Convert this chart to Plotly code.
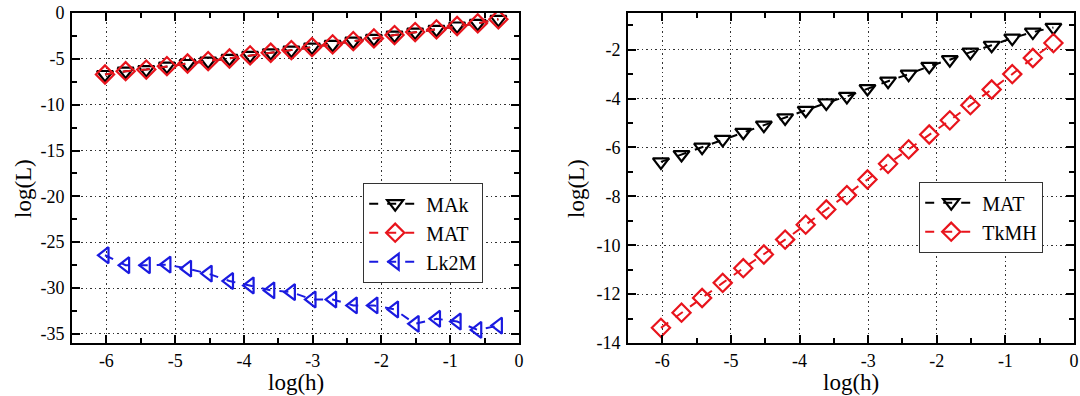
import plotly.graph_objects as go

# shared abscissa: log10(h) for h = 2^-20 ... 2^-1
log_h = [-6.02, -5.72, -5.42, -5.12, -4.82, -4.52, -4.21, -3.91, -3.61, -3.31,
         -3.01, -2.71, -2.41, -2.11, -1.81, -1.51, -1.20, -0.90, -0.60, -0.30]

# left panel
left_MAk = [-6.71, -6.35, -6.17, -5.80, -5.51, -5.25, -4.96, -4.63, -4.34, -4.05,
            -3.72, -3.43, -3.07, -2.77, -2.41, -2.08, -1.79, -1.42, -1.13, -0.69]
left_MAT = [-6.71, -6.35, -6.17, -5.80, -5.51, -5.25, -4.96, -4.63, -4.34, -4.05,
            -3.72, -3.43, -3.07, -2.77, -2.41, -2.08, -1.79, -1.42, -1.13, -0.69]
left_Lk2M = [-26.43, -27.52, -27.52, -27.45, -27.89, -28.43, -29.24, -29.72, -30.26, -30.45,
             -31.25, -31.25, -31.90, -31.90, -32.34, -33.91, -33.36, -33.66, -34.57, -34.10]

# right panel
right_MAT = [-6.59, -6.29, -5.99, -5.67, -5.38, -5.09, -4.79, -4.48, -4.18, -3.91,
             -3.59, -3.29, -3.00, -2.68, -2.41, -2.10, -1.82, -1.53, -1.28, -1.09]
right_TkMH = [-13.38, -12.76, -12.16, -11.54, -10.94, -10.38, -9.77, -9.16, -8.54, -7.95,
              -7.31, -6.67, -6.08, -5.47, -4.89, -4.27, -3.63, -3.00, -2.34, -1.73]

x_ticks = [-6, -5, -4, -3, -2, -1, 0]
left_y_ticks = [0, -5, -10, -15, -20, -25, -30, -35]
right_y_ticks = [-2, -4, -6, -8, -10, -12, -14]
x_title = "log(h)"
y_title = "log(L)"

FONT = "Liberation Serif, Times New Roman, serif"
RED = "#e8141c"
BLUE = "#1a1ae0"
MS = 14

W, H = 1080, 396
T = 13
B = H - 343
PH = H - T - B


def px(xs):
    return xs / W


def py(ys):
    return (H - B - ys) / PH


L_DOM = [px(72), px(519)]
R_DOM = [px(628), px(1074)]

fig = go.Figure()


def add(x, y, name, color, symbol, xa, ya, legend):
    fig.add_trace(go.Scatter(
        x=x, y=y, name=name, mode="lines+markers",
        line=dict(color=color, width=2, dash="dash"),
        marker=dict(symbol=symbol, size=MS, line=dict(color=color, width=2.2)),
        xaxis=xa, yaxis=ya, legend=legend))


add(log_h, left_MAk, "MAk", "black", "triangle-down-open", "x", "y", "legend")
add(log_h, left_MAT, "MAT", RED, "diamond-open", "x", "y", "legend")
add(log_h, left_Lk2M, "Lk2M", BLUE, "triangle-left-open", "x", "y", "legend")
add(log_h, right_MAT, "MAT", "black", "triangle-down-open", "x2", "y2", "legend2")
add(log_h, right_TkMH, "TkMH", RED, "diamond-open", "x2", "y2", "legend2")

TICKFONT = dict(family=FONT, size=18, color="black")


def axis_common():
    return dict(ticks="inside", ticklen=8, tickwidth=1.8, tickcolor="black",
                showline=True, linecolor="black", linewidth=2, mirror="allticks",
                showgrid=True, gridcolor="#333", griddash="1.5px,3px", gridwidth=1.3,
                zeroline=False, automargin=False, tickfont=TICKFONT,
                ticklabeloverflow="allow")


def xaxis(domain, anchor):
    d = axis_common()
    d.update(domain=domain, anchor=anchor, range=[-6.5, 0], tickvals=x_ticks,
             ticktext=[str(v) for v in x_ticks], ticklabelstandoff=0,
             minor=dict(ticks="inside", dtick=0.5, tick0=0, ticklen=5,
                        tickwidth=1.8, tickcolor="black", showgrid=False))
    return d


def yaxis(rng, tv, minor_dtick, anchor):
    d = axis_common()
    d.update(domain=[0, 1], anchor=anchor, range=rng, tickvals=tv,
             ticktext=[str(v) for v in tv], ticklabelstandoff=2,
             minor=dict(ticks="inside", dtick=minor_dtick, tick0=0, ticklen=5,
                        tickwidth=1.8, tickcolor="black", showgrid=False))
    return d


legend_common = dict(bgcolor="white", bordercolor="#333", borderwidth=1.2,
                     font=dict(family=FONT, size=20, color="black"),
                     xanchor="left", yanchor="top", tracegroupgap=0, itemwidth=52)

TITLEFONT = dict(family=FONT, size=23, color="black")
title_common = dict(xref="paper", yref="paper", showarrow=False, font=TITLEFONT,
                    xanchor="center", yanchor="middle")
annotations = [
    dict(text=x_title, x=sum(L_DOM) / 2, y=py(382), **title_common),
    dict(text=x_title, x=sum(R_DOM) / 2, y=py(382), **title_common),
    dict(text=y_title, x=px(23), y=py(189), textangle=-90, **title_common),
    dict(text=y_title, x=px(576), y=py(189), textangle=-90, **title_common),
]

fig.update_layout(
    width=W, height=H,
    margin=dict(l=0, r=0, t=T, b=B),
    paper_bgcolor="white", plot_bgcolor="white",
    showlegend=True,
    xaxis=xaxis(L_DOM, "y"),
    yaxis=yaxis([-36, 0], left_y_ticks, 2.5, "x"),
    xaxis2=xaxis(R_DOM, "y2"),
    yaxis2=yaxis([-14, -0.5], right_y_ticks, 1, "x2"),
    legend=dict(x=px(363), y=py(183), **legend_common),
    legend2=dict(x=px(919), y=py(182), **legend_common),
    annotations=annotations,
)

# remove the browser's default 8px body margin so the figure fills the window exactly
fig.write_html("out.html", config={"displayModeBar": False},
               post_script="document.body.style.margin='0px';document.body.style.overflow='hidden';")
